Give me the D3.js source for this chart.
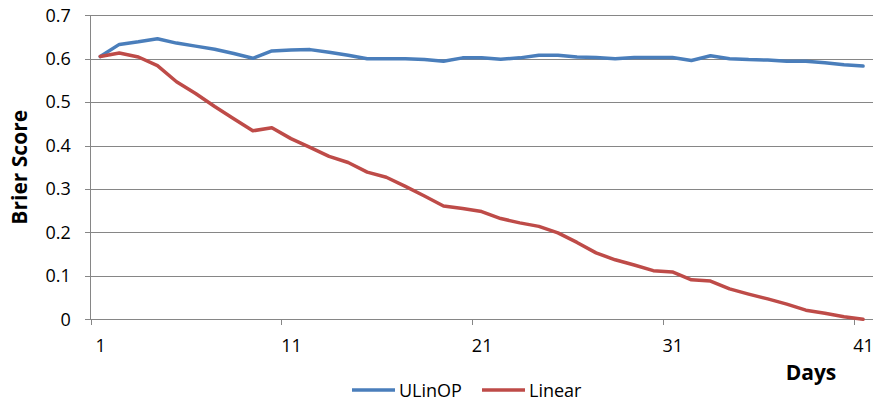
<!DOCTYPE html>
<html>
<head>
<meta charset="utf-8">
<script src="https://cdn.jsdelivr.net/npm/d3@7"></script>
<style>
    body { margin: 0; background: #fff; }
    #chart { width: 875px; height: 405px; }
    .axis text { font-family: "Open Sans", sans-serif; font-size: 18px; fill: #000; }
    .axis path, .axis line { stroke: #868686; }
</style>
</head>
<body>
<div id="chart"></div>
<script>

// categories (days) and the two series
const days = [1,2,3,4,5,6,7,8,9,10,11,12,13,14,15,16,17,18,19,20,21,
              22,23,24,25,26,27,28,29,30,31,32,33,34,35,36,37,38,39,40,41]

const ulinop = [0.605,0.633,0.639,0.646,0.636,0.629,0.622,0.612,0.601,0.618,
                0.620,0.621,0.615,0.608,0.600,0.600,0.600,0.598,0.594,0.602,
                0.602,0.599,0.602,0.608,0.608,0.604,0.603,0.600,0.603,0.603,
                0.603,0.596,0.607,0.600,0.598,0.597,0.594,0.594,0.591,0.586,0.583]

const linear = [0.605,0.613,0.604,0.584,0.547,0.520,0.490,0.462,0.434,0.441,
                0.416,0.396,0.375,0.361,0.339,0.327,0.306,0.284,0.261,0.255,
                0.248,0.232,0.222,0.214,0.199,0.177,0.153,0.137,0.125,0.112,
                0.109,0.091,0.088,0.070,0.058,0.047,0.035,0.021,0.014,0.006,0.000]

const xLabels = [1, 11, 21, 31, 41]
const yTicks = [0, 0.1, 0.2, 0.3, 0.4, 0.5, 0.6, 0.7]

const seriesNames = ["ULinOP", "Linear"]
const seriesColors = ["#4a7ebb", "#be4b48"]


class BrierChart {

    constructor(parentElement){
        this.parentElement = parentElement
        this.series = [
            {name: seriesNames[0], color: seriesColors[0], values: ulinop},
            {name: seriesNames[1], color: seriesColors[1], values: linear}
        ]
        this.initVis()
    }

    initVis(){
        let vis = this

        vis.width = 875
        vis.height = 405
        vis.plot = {left: 90.7, right: 872.6, top: 15.3, bottom: 319.3}

        vis.svg = d3.select("#" + vis.parentElement).append("svg")
            .attr("width", vis.width)
            .attr("height", vis.height)

        // categories sit between tick marks, like the spreadsheet chart
        vis.x = d3.scaleLinear()
            .domain([days[0] - 0.5, days[days.length - 1] + 0.5])
            .range([vis.plot.left, vis.plot.right])
        vis.y = d3.scaleLinear()
            .domain([0, 0.7])
            .range([vis.plot.bottom, vis.plot.top])

        // horizontal gridlines
        vis.svg.append("g")
            .attr("class", "axis grid")
            .attr("transform", `translate(${vis.plot.left},0)`)
            .call(d3.axisLeft(vis.y).tickValues(yTicks)
                .tickSize(-(vis.plot.right - vis.plot.left)).tickFormat(""))
            .call(g => g.select(".domain").remove())
            .selectAll("line").attr("stroke", "#868686").attr("shape-rendering", "crispEdges")

        // y axis with labels
        vis.svg.append("g")
            .attr("class", "axis y-axis")
            .attr("transform", `translate(${vis.plot.left},0)`)
            .call(d3.axisLeft(vis.y).tickValues(yTicks).tickSize(6).tickPadding(14)
                .tickFormat(d => d === 0 ? "0" : d3.format(".1f")(d)))
            .call(g => g.select(".domain").attr("d", `M0,${vis.plot.top}V${vis.plot.bottom}`))
            .attr("shape-rendering", "crispEdges")

        // x axis: tick marks on category boundaries
        vis.svg.append("g")
            .attr("class", "axis x-axis")
            .attr("transform", `translate(0,${vis.plot.bottom})`)
            .call(d3.axisBottom(vis.x).tickValues(xLabels.map(d => d - 0.5)).tickSize(6).tickFormat(""))
            .call(g => g.select(".domain").attr("d", `M${vis.plot.left},0H${vis.plot.right}`))
            .attr("shape-rendering", "crispEdges")

        // x labels at category centres
        vis.svg.append("g")
            .attr("class", "axis x-labels")
            .attr("transform", `translate(0,${vis.plot.bottom})`)
            .call(d3.axisBottom(vis.x).tickValues(xLabels).tickSize(0).tickPadding(20))
            .call(g => g.select(".domain").remove())

        // axis titles
        vis.svg.append("text")
            .attr("transform", `translate(27,${(vis.plot.top + vis.plot.bottom) / 2}) rotate(-90)`)
            .attr("text-anchor", "middle")
            .style("font-family", "'Open Sans', sans-serif")
            .style("font-size", "21px")
            .style("font-weight", "bold")
            .text("Brier Score")

        vis.svg.append("text")
            .attr("x", 811)
            .attr("y", 380)
            .attr("text-anchor", "middle")
            .style("font-family", "'Open Sans', sans-serif")
            .style("font-size", "21px")
            .style("font-weight", "bold")
            .text("Days")

        vis.updateVis()
    }

    updateVis(){
        let vis = this

        let line = d3.line()
            .x((d, i) => vis.x(days[i]))
            .y(d => vis.y(d))

        vis.svg.selectAll(".series")
            .data(vis.series)
            .join("path")
            .attr("class", "series")
            .attr("fill", "none")
            .attr("stroke", d => d.color)
            .attr("stroke-width", 3.5)
            .attr("stroke-linejoin", "round")
            .attr("stroke-linecap", "round")
            .attr("d", d => line(d.values))

        // legend
        let legendX = [352, 482]
        let legend = vis.svg.selectAll(".legend")
            .data(vis.series)
            .join("g")
            .attr("class", "legend")
            .attr("transform", (d, i) => `translate(${legendX[i]},390)`)

        legend.append("line")
            .attr("x1", 0).attr("x2", 43)
            .attr("stroke", d => d.color)
            .attr("stroke-width", 3.5)

        legend.append("text")
            .attr("x", 47)
            .attr("y", 7)
            .style("font-family", "'Open Sans', sans-serif")
            .style("font-size", "18px")
            .text(d => d.name)
    }
}

new BrierChart("chart")
</script>
</body>
</html>
